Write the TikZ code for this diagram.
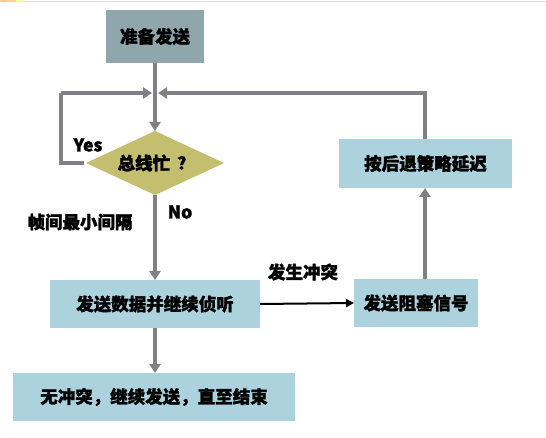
\documentclass[tikz,border=0pt]{standalone}
\usepackage{fontspec}
\setmainfont{Noto Sans CJK SC}[BoldFeatures={FakeBold=1.6}]
\usetikzlibrary{arrows.meta,shapes.geometric}
\definecolor{topbox}{HTML}{8FA6AC}
\definecolor{lblue}{HTML}{ABD2DD}
\definecolor{olive}{HTML}{C4BE6F}
\definecolor{conn}{HTML}{818185}
\tikzset{
  every node/.style={font=\fontsize{17.5}{20}\selectfont\bfseries, text=black, inner sep=0pt, outer sep=0pt},
  boxn/.style={rectangle, fill=lblue, anchor=north west},
  gline/.style={draw=conn, line width=3.6pt},
  garrow/.style={gline, -{Triangle[length=9pt,width=11pt]}},
  karrow/.style={draw=black, line width=2pt, -{Triangle[length=8pt,width=8pt]}},
}
\begin{document}
\begin{tikzpicture}[x=1pt,y=-1pt]
\useasboundingbox (0,0) rectangle (546,438);
\fill[white] (0,0) rectangle (546,438);
\draw[black!12, line width=1.5pt] (0,1.5) -- (546,1.5);
\fill[orange!45] (4,0) ellipse (4pt and 2.5pt);
\fill[orange!35] (12,0) ellipse (4pt and 2.5pt);
\fill[yellow!40] (20,0) ellipse (4pt and 2.5pt);
% boxes
\node[boxn, fill=topbox, minimum width=98pt, minimum height=53pt] (prep) at (106,10) {准备发送};
\node[diamond, fill=olive, minimum width=138pt, minimum height=64pt, aspect=2.15, inner sep=0pt] (busy) at (155,163) {};
\node (busyt) at (152,163) {总线忙\hspace{7pt}?};
\node[boxn, minimum width=173pt, minimum height=49pt] (back) at (339,139) {按后退策略延迟};
\node[boxn, minimum width=210pt, minimum height=48pt] (send) at (50,280) {发送数据并继续侦听};
\node[boxn, minimum width=124pt, minimum height=48pt] (jam) at (354,279) {发送阻塞信号};
\node[boxn, minimum width=282pt, minimum height=48pt] (done) at (13,373) {无冲突，继续发送，直至结束};
% junction coordinates
\coordinate (m) at (155,93);
\coordinate (yl) at (61,163);
\coordinate (yt) at (61,93);
\coordinate (rt) at (425,93);
% connectors
\draw[garrow] (prep.south) -- (busy.north);
\draw[gline] ([xshift=-2pt]busy.west) -- (yl) -- (yt);
\draw[garrow] (yt) -- ([xshift=-3pt]m);
\draw[gline] (back.north -| rt) -- (rt) -- ([xshift=14pt]m);
\draw[garrow] ([xshift=14pt]m) -- ([xshift=3pt]m);
\draw[garrow] (busy.south) -- (send.north -| busy.south);
\draw[garrow] (send.south -| busy.south) -- (done.north -| busy.south);
\draw[garrow] (jam.north -| rt) -- (back.south -| rt);
\draw[karrow] (send.east) -- (jam.west);
% labels
\node (yes) at (88,145) {Yes};
\node (no) at (180,212) {No};
\node (gap) at (80,222) {帧间最小间隔};
\node (coll) at (303,272) {发生冲突};
\end{tikzpicture}
\end{document}
